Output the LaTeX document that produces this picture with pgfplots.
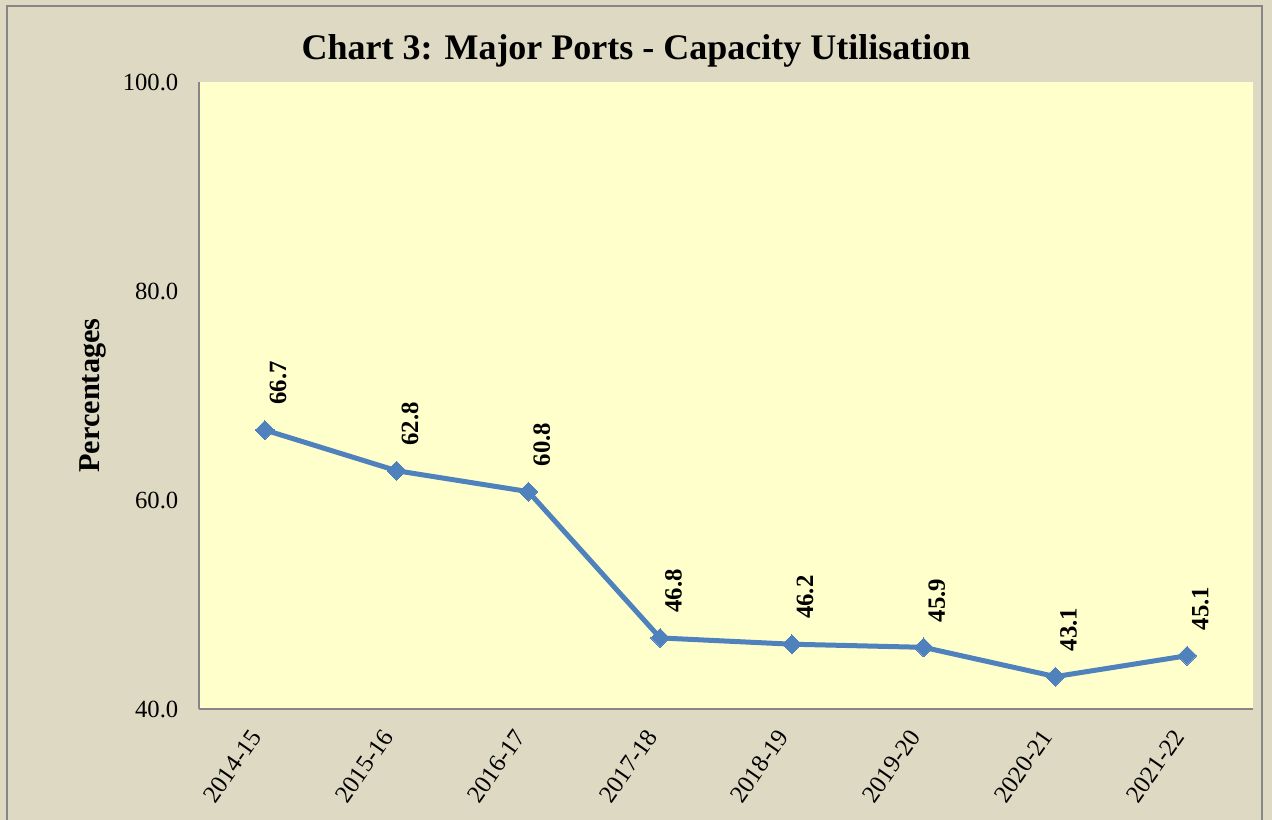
\documentclass[border=0pt]{standalone}
\usepackage{pgfplots}
\pgfplotsset{compat=1.18}
\usepackage{fontspec}
\setmainfont{Liberation Serif}
\definecolor{bgbeige}{HTML}{DDD9C3}
\definecolor{plotyellow}{HTML}{FFFFCC}
\definecolor{lineblue}{HTML}{4F81BD}
\definecolor{axgray}{HTML}{868686}
\begin{document}
\begin{tikzpicture}
\useasboundingbox (0,0) rectangle (954pt,615pt);
\fill[bgbeige] (0,0) rectangle (954pt,615pt);
\draw[axgray, line width=1.2pt] (5.25pt,-5pt) rectangle (946.5pt,610.5pt);
\node[font=\fontsize{27}{32}\selectfont\bfseries] at (477pt,577pt) {Chart 3: Major Ports - Capacity Utilisation};
\begin{axis}[
  at={(149.25pt,83.25pt)}, anchor=south west,
  width=790.5pt, height=470.25pt, scale only axis,
  xmin=-0.5, xmax=7.5, ymin=40, ymax=100,
  axis background/.style={fill=plotyellow},
  axis x line*=bottom, axis y line*=left,
  axis line style={axgray, line width=1.2pt, -},
  xtick=data,
  xticklabels={2014-15,2015-16,2016-17,2017-18,2018-19,2019-20,2020-21,2021-22},
  ytick={40,60,80,100},
  major tick length=0pt,
  /pgf/number format/assume math mode=true,
  y tick label style={/pgf/number format/fixed, /pgf/number format/fixed zerofill, /pgf/number format/precision=1},
  yticklabel style={font=\fontsize{18.5}{22}\selectfont, xshift=-12pt},
  xticklabel style={font=\fontsize{18.5}{22}\selectfont, xshift=-4.4pt, yshift=-14.6pt, rotate=55, anchor=east},
  ylabel={Percentages},
  ylabel style={font=\fontsize{22.7}{26}\selectfont\bfseries, at={(axis description cs:-0.1006,0.5)}, anchor=center},
  nodes near coords,
  point meta=explicit symbolic,
  every node near coord/.style={font=\fontsize{18.6}{22}\selectfont\bfseries, black, inner sep=0pt, xshift=10pt, yshift=19pt, rotate=90, anchor=west},
]
\addplot[color=lineblue, line width=3.75pt, mark=square*, mark size=5pt, mark options={line width=0pt, fill=lineblue, rotate=45}]
  table[meta=lab] {
x y lab
0 66.7 66.7
1 62.8 62.8
2 60.8 60.8
3 46.8 46.8
4 46.2 46.2
5 45.9 45.9
6 43.1 43.1
7 45.1 45.1
};
\end{axis}
\end{tikzpicture}
\end{document}
